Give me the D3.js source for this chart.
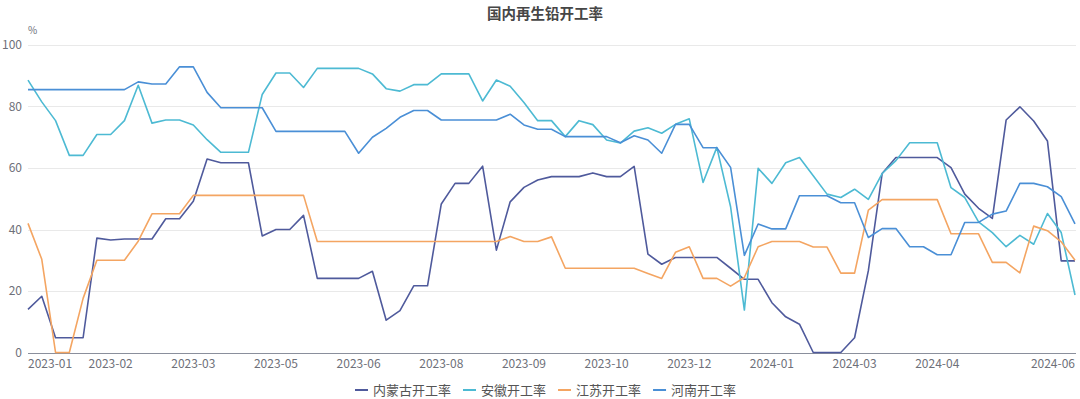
<!DOCTYPE html>
<html>
<head>
<meta charset="utf-8">
<script src="https://cdn.jsdelivr.net/npm/d3@7"></script>
<style>
  html, body { margin: 0; padding: 0; background: #fff; }
  svg { display: block; font-family: "Noto Sans CJK SC", "Noto Sans", sans-serif; }
</style>
</head>
<body>
<script>
// weekly points, 77 of them
var count = 77;

// tick labels and the point index they sit on
var tickIndex = [0, 6, 12, 18, 24, 30, 36, 42, 48, 54, 60, 66, 76];
var tickLabels = ['2023-01', '2023-02', '2023-03', '2023-05', '2023-06', '2023-08', '2023-09',
                  '2023-10', '2023-12', '2024-01', '2024-03', '2024-04', '2024-06'];

var seriesNames = ['内蒙古开工率', '安徽开工率', '江苏开工率', '河南开工率'];

var neimenggu = [14.0, 18.3, 4.8, 4.8, 4.8, 37.2, 36.6, 36.9, 36.9, 36.9,
                 43.5, 43.5, 49.2, 62.9, 61.7, 61.7, 61.7, 37.9, 40.0, 40.0,
                 44.6, 24.1, 24.1, 24.1, 24.1, 26.4, 10.5, 13.6, 21.7, 21.7,
                 48.3, 55.0, 55.0, 60.6, 33.3, 49.0, 53.7, 56.1, 57.2, 57.2,
                 57.2, 58.4, 57.2, 57.2, 60.5, 32.0, 28.7, 30.9, 30.9, 30.9,
                 30.9, 27.4, 23.8, 23.8, 16.2, 11.6, 9.2, 0, 0, 0,
                 4.8, 26.6, 58.2, 63.4, 63.4, 63.4, 63.4, 60.1, 51.5, 46.9,
                 43.6, 75.6, 79.9, 75.3, 68.8, 29.8, 29.8];

var anhui = [88.6, 81.5, 75.4, 64.1, 64.1, 70.9, 70.9, 75.4, 86.9, 74.6,
             75.6, 75.6, 74.0, 69.2, 65.1, 65.1, 65.1, 83.9, 90.9, 90.9,
             86.2, 92.4, 92.4, 92.4, 92.4, 90.6, 85.8, 85.0, 87.1, 87.1,
             90.6, 90.6, 90.6, 81.8, 88.6, 86.6, 81.3, 75.4, 75.4, 70.2,
             75.4, 74.1, 69.1, 68.1, 72.0, 73.1, 71.3, 74.2, 76.0, 55.3,
             66.7, 47.4, 13.8, 59.9, 55.0, 61.7, 63.4, 57.5, 51.5, 50.4,
             53.1, 49.8, 58.2, 62.4, 68.2, 68.2, 68.2, 53.6, 50.4, 42.5,
             39.0, 34.4, 38.1, 35.2, 45.2, 39.0, 18.7];

var jiangsu = [42.0, 30.3, 0, 0, 17.6, 30.0, 30.0, 30.0, 36.2, 45.1,
               45.1, 45.1, 51.1, 51.1, 51.1, 51.1, 51.1, 51.1, 51.1, 51.1,
               51.1, 36.1, 36.1, 36.1, 36.1, 36.1, 36.1, 36.1, 36.1, 36.1,
               36.1, 36.1, 36.1, 36.1, 36.1, 37.7, 36.1, 36.1, 37.6, 27.4,
               27.4, 27.4, 27.4, 27.4, 27.4, 25.7, 24.1, 32.6, 34.4, 24.1,
               24.1, 21.6, 24.4, 34.4, 36.1, 36.1, 36.1, 34.3, 34.3, 25.8,
               25.8, 46.3, 49.7, 49.7, 49.7, 49.7, 49.7, 38.6, 38.6, 38.6,
               29.3, 29.3, 25.9, 41.1, 39.6, 36.0, 30.0];

var henan = [85.5, 85.5, 85.5, 85.5, 85.5, 85.5, 85.5, 85.5, 88.0, 87.3,
             87.3, 92.9, 92.9, 84.6, 79.6, 79.6, 79.6, 79.6, 71.9, 71.9,
             71.9, 71.9, 71.9, 71.9, 64.8, 70.0, 72.9, 76.5, 78.7, 78.7,
             75.6, 75.6, 75.6, 75.6, 75.6, 77.5, 74.0, 72.6, 72.6, 70.2,
             70.2, 70.2, 70.2, 68.2, 70.5, 69.1, 64.8, 74.2, 74.2, 66.6,
             66.6, 60.2, 31.6, 41.8, 40.2, 40.2, 51.0, 51.0, 51.0, 48.7,
             48.7, 37.4, 40.3, 40.3, 34.4, 34.4, 31.8, 31.8, 42.3, 42.3,
             45.0, 46.0, 55.0, 55.0, 53.9, 50.7, 41.8];

var seriesValues = [neimenggu, anhui, jiangsu, henan];
var colors = ['#4f5a9c', '#4dbad3', '#f4a562', '#4a8fd6'];
var yTicks = [0, 20, 40, 60, 80, 100];

var width = 1080, height = 399;
var margin = {left: 28, right: 5, top: 45, bottom: 46.5};

var svg = d3.select('body').append('svg')
  .attr('width', width)
  .attr('height', height);

var x = d3.scaleLinear()
  .domain([0, count - 1])
  .range([margin.left, width - margin.right]);

var y = d3.scaleLinear()
  .domain([0, 100])
  .range([height - margin.bottom, margin.top]);

// title
svg.append('text')
  .attr('x', 545)
  .attr('y', 19)
  .attr('text-anchor', 'middle')
  .attr('font-size', 14.5)
  .attr('font-weight', 'bold')
  .attr('fill', '#464646')
  .text('国内再生铅开工率');

// unit
svg.append('text')
  .attr('x', 28)
  .attr('y', 34)
  .attr('font-size', 10)
  .attr('fill', '#6e7079')
  .text('%');

// grid lines
svg.append('g')
  .selectAll('line')
  .data(yTicks.filter(function(d){ return d > 0; }))
  .join('line')
  .attr('x1', margin.left)
  .attr('x2', width - margin.right + 1)
  .attr('y1', function(d){ return Math.round(y(d)) + 0.5; })
  .attr('y2', function(d){ return Math.round(y(d)) + 0.5; })
  .attr('stroke', '#e9e9e9')
  .attr('stroke-width', 1);

// y labels
svg.append('g')
  .selectAll('text')
  .data(yTicks)
  .join('text')
  .attr('x', 22)
  .attr('y', function(d){ return y(d) + 4; })
  .attr('text-anchor', 'end')
  .attr('font-size', 12)
  .attr('fill', '#6e7079')
  .text(function(d){ return d; });

// x axis line
svg.append('line')
  .attr('x1', margin.left)
  .attr('x2', width - margin.right + 1)
  .attr('y1', Math.round(y(0)) + 0.5)
  .attr('y2', Math.round(y(0)) + 0.5)
  .attr('stroke', '#8a8f9c')
  .attr('stroke-width', 1);

// x labels (first one left aligned, last one right aligned)
svg.append('g')
  .selectAll('text')
  .data(tickIndex)
  .join('text')
  .attr('x', function(d){ return x(d); })
  .attr('y', 368)
  .attr('text-anchor', function(d, i){
    if (i === 0) return 'start';
    if (i === tickIndex.length - 1) return 'end';
    return 'middle';
  })
  .attr('font-size', 12)
  .attr('fill', '#6e7079')
  .text(function(d, i){ return tickLabels[i]; });

// lines
var line = d3.line()
  .x(function(d, i){ return x(i); })
  .y(function(d){ return y(d); });

svg.append('g')
  .selectAll('path')
  .data(seriesValues)
  .join('path')
  .attr('d', line)
  .attr('fill', 'none')
  .attr('stroke', function(d, i){ return colors[i]; })
  .attr('stroke-width', 1.6)
  .attr('stroke-linejoin', 'round');

// legend: icon, text, then gap; laid out from measured text widths
var legend = svg.append('g').attr('transform', 'translate(0,390)');
var lx = 355;
seriesNames.forEach(function(name, i){
  var g = legend.append('g').attr('transform', 'translate(' + lx + ',0)');
  g.append('line')
    .attr('x1', 0)
    .attr('x2', 13)
    .attr('y1', 0)
    .attr('y2', 0)
    .attr('stroke', colors[i])
    .attr('stroke-width', 2);
  var t = g.append('text')
    .attr('x', 18)
    .attr('y', 4.5)
    .attr('font-size', 13)
    .attr('fill', '#555')
    .text(name);
  lx += 18 + t.node().getComputedTextLength() + 12;
});
</script>
</body>
</html>
